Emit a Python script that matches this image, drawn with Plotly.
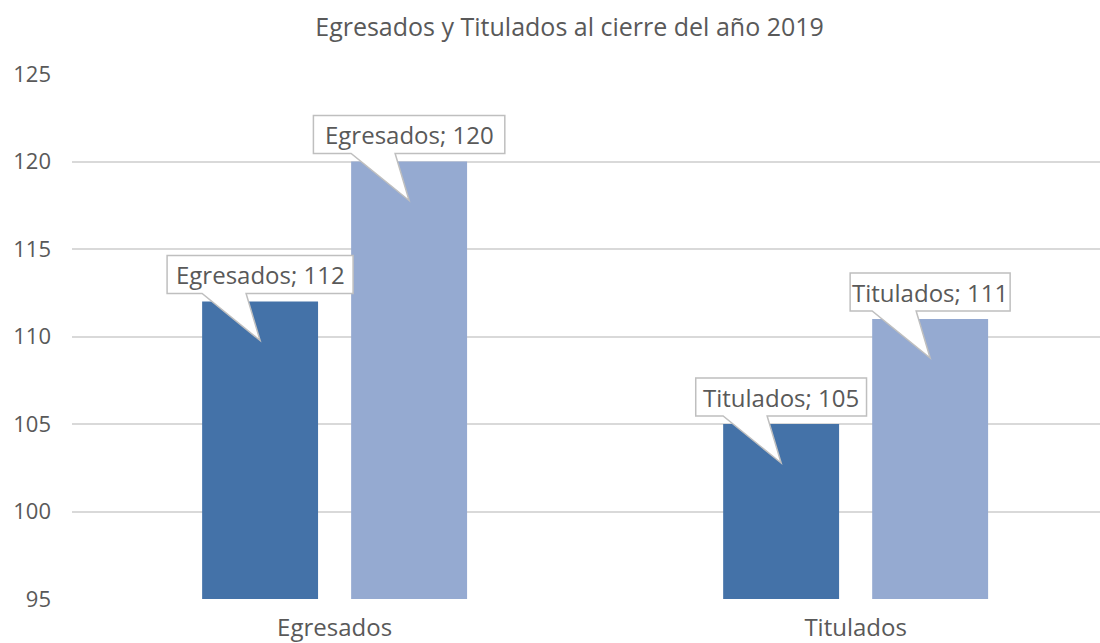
import plotly.graph_objects as go

categories = ["Egresados", "Titulados"]
series_names = ["Serie 1", "Serie 2"]
serie1 = [112, 105]
serie2 = [120, 111]
y_ticks = [95, 100, 105, 110, 115, 120, 125]

colors = ["#4472a8", "#95aad1"]
text_color = "#595959"
font_family = "Open Sans"
bargap = 0.428
bargroupgap = 0.222


def label_width(text):
    # rough box width in px for the callout rectangle
    w = 0
    for c in text:
        if c == '1':
            w += 8
        elif c in 'ilt':
            w += 6.5
        elif c in '; ':
            w += 6
        else:
            w += 13.4
    return w + 24


cat_pos = list(range(len(categories)))
slot = (1 - bargap) / 2

fig = go.Figure()
for i, vals in enumerate([serie1, serie2]):
    fig.add_trace(go.Bar(
        x=cat_pos,
        y=vals,
        name=series_names[i],
        marker=dict(color=colors[i], line=dict(width=0)),
    ))

# callouts: white box with a tail pointing into the bar
shapes = []
annotations = []
for i, vals in enumerate([serie1, serie2]):
    off = (i - 0.5) * slot
    for j, v in enumerate(vals):
        xb = cat_pos[j] + off
        txt = "%s; %d" % (categories[j], v)
        hw = label_width(txt) / 2
        path = ("M %.1f,8 L -58,8 L 0,-39 L -14,8 L %.1f,8 L %.1f,46 L %.1f,46 Z"
                % (-hw, hw, hw, -hw))
        shapes.append(dict(
            type="path", xref="x", yref="y",
            xsizemode="pixel", ysizemode="pixel",
            xanchor=xb, yanchor=v, path=path,
            fillcolor="white", line=dict(color="#bfbfbf", width=1.5),
            layer="above",
        ))
        annotations.append(dict(
            x=xb, y=v, xref="x", yref="y", text=txt, showarrow=False,
            yanchor="middle", yshift=27,
            font=dict(family=font_family, size=24, color=text_color),
        ))

fig.update_layout(
    width=1100,
    height=643,
    plot_bgcolor="white",
    paper_bgcolor="white",
    showlegend=False,
    barmode="group",
    bargap=bargap,
    bargroupgap=bargroupgap,
    margin=dict(l=72, r=0, t=74, b=38),
    font=dict(family=font_family, size=22, color=text_color),
    title=dict(
        text="Egresados y Titulados al cierre del año 2019",
        x=0.484, xref="paper", xanchor="center",
        y=0.958, yref="container", yanchor="middle",
        font=dict(family=font_family, size=25, color=text_color),
    ),
    shapes=shapes,
    annotations=annotations,
)
fig.update_xaxes(
    range=[-0.504, 1.469],
    tickvals=cat_pos,
    ticktext=categories,
    showgrid=False,
    showline=False,
    zeroline=False,
    ticks="",
    ticklabelstandoff=12,
    tickfont=dict(size=24, color=text_color),
)
fig.update_yaxes(
    range=[95, 125],
    tickvals=y_ticks,
    showgrid=True,
    gridcolor="#d9d9d9",
    gridwidth=1.5,
    zeroline=False,
    showline=False,
    ticks="",
    ticklabelstandoff=20,
    tickfont=dict(size=22, color=text_color),
)

# page body has a default 8px margin, drop it so the figure sits at 0,0
fig.write_html("out.html", config={"displayModeBar": False},
               post_script="document.body.style.margin = '0';")
